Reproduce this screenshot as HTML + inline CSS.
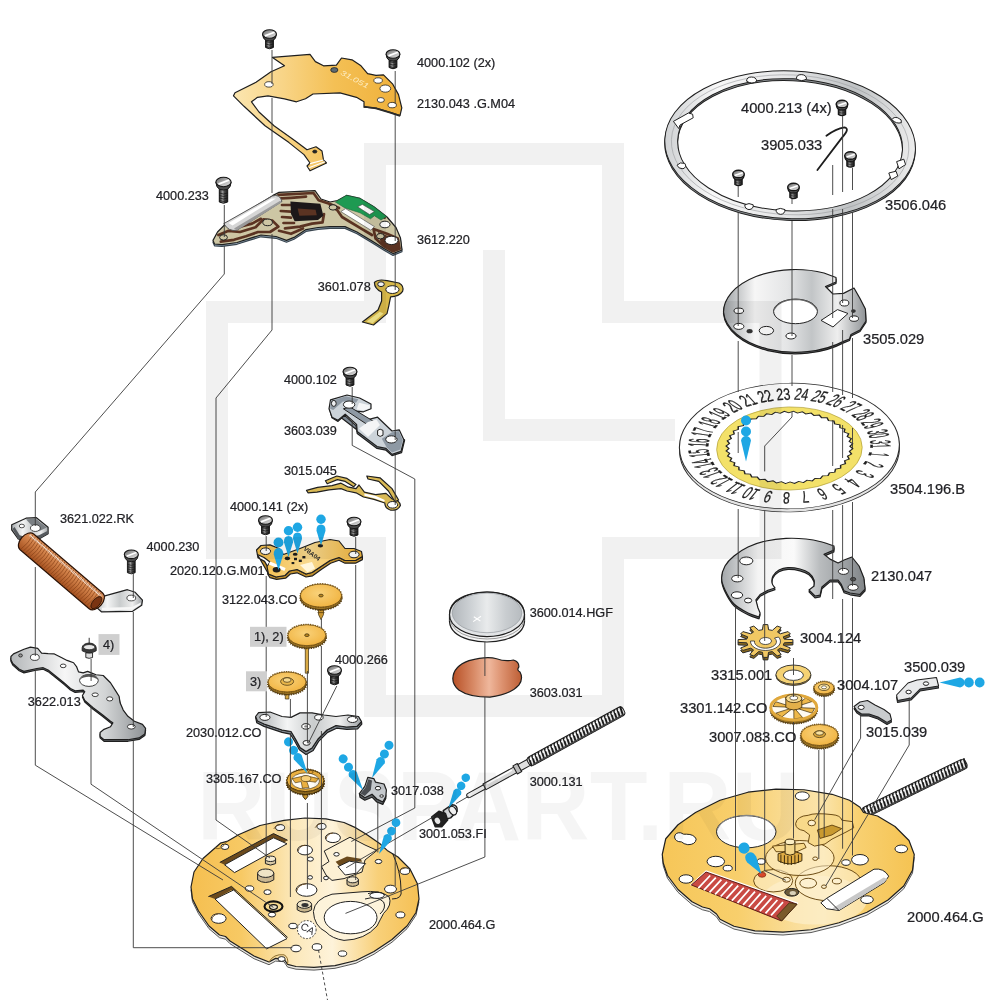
<!DOCTYPE html>
<html lang="en">
<head>
<meta charset="utf-8">
<title>Exploded view - movement parts</title>
<style>
html,body{margin:0;padding:0;background:#fff;}
body{width:1000px;height:1000px;overflow:hidden;font-family:"Liberation Sans",sans-serif;}
svg{display:block;will-change:transform;}
svg text{font-family:"Liberation Sans",sans-serif;}
.lbl{font-size:12.7px;fill:#222226;stroke:#222226;stroke-width:0.22px;}
.ln{fill:none;stroke:#3a3a3a;stroke-width:0.9;}
.o{stroke:#2b2b2b;stroke-width:1;vector-effect:non-scaling-stroke;stroke-linejoin:round;}
.ot{stroke:#2b2b2b;stroke-width:0.7;vector-effect:non-scaling-stroke;stroke-linejoin:round;}
.n{vector-effect:non-scaling-stroke;}
</style>
</head>
<body>
<svg width="1000" height="1000" viewBox="0 0 1000 1000">
<!-- 00_defs -->
<defs>
  <linearGradient id="gGold" x1="0" y1="0" x2="1" y2="0">
    <stop offset="0" stop-color="#f2b63c"/><stop offset="0.45" stop-color="#fbe3ad"/><stop offset="0.6" stop-color="#fbe6b4"/><stop offset="1" stop-color="#f2b840"/>
  </linearGradient>
  <linearGradient id="gGold2" x1="0" y1="0" x2="1" y2="0">
    <stop offset="0" stop-color="#f3bc48"/><stop offset="0.5" stop-color="#f8d98f"/><stop offset="1" stop-color="#f1b43a"/>
  </linearGradient>
  <linearGradient id="gSteel" x1="0" y1="0" x2="1" y2="0">
    <stop offset="0" stop-color="#a9adb0"/><stop offset="0.3" stop-color="#f4f5f5"/><stop offset="0.55" stop-color="#c9cccd"/><stop offset="0.8" stop-color="#eeeeee"/><stop offset="1" stop-color="#9fa3a6"/>
  </linearGradient>
  <linearGradient id="gSteel2" x1="0" y1="0" x2="1" y2="0">
    <stop offset="0" stop-color="#b4b7b9"/><stop offset="0.4" stop-color="#f6f6f6"/><stop offset="0.7" stop-color="#d2d4d5"/><stop offset="1" stop-color="#8e9295"/>
  </linearGradient>
  <linearGradient id="gCopper" x1="0" y1="0" x2="1" y2="0">
    <stop offset="0" stop-color="#b9542a"/><stop offset="0.45" stop-color="#eaa98a"/><stop offset="0.6" stop-color="#e39a78"/><stop offset="1" stop-color="#c0603a"/>
  </linearGradient>
</defs>
<rect x="0" y="0" width="1000" height="1000" fill="#ffffff"/>
<defs>
  <linearGradient id="gShaft" x1="0" y1="0" x2="1" y2="0">
    <stop offset="0" stop-color="#1c1c1c"/><stop offset="0.4" stop-color="#9a9a9a"/><stop offset="0.6" stop-color="#4a4a4a"/><stop offset="1" stop-color="#1a1a1a"/>
  </linearGradient>
  <linearGradient id="gHead" x1="0" y1="0" x2="1" y2="1">
    <stop offset="0" stop-color="#666"/><stop offset="0.5" stop-color="#b0b0b0"/><stop offset="1" stop-color="#e6e6e6"/>
  </linearGradient>
  <g id="screw">
    <path d="M-3.900 3 V13.500 Q0 16 3.900 13.500 V3 Z" fill="url(#gShaft)" stroke="#161616" stroke-width="1"/>
    <path d="M-3.900 7.500 Q0 9.500 3.900 7.500 M-3.900 10 Q0 12 3.900 10 M-3.900 12.500 Q0 14.500 3.900 12.500" fill="none" stroke="#161616" stroke-width="0.7"/>
    <path d="M-6.900 0 Q-6.900 5 -3.300 6.600 Q0 7.600 3.300 6.600 Q6.900 5 6.900 0 Z" fill="#4a4a4a" stroke="#161616" stroke-width="1"/>
    <ellipse cx="0" cy="0" rx="6.900" ry="4.300" fill="url(#gHead)" stroke="#161616" stroke-width="1.100"/>
    <path d="M-4.600 1.900 L5 -1.700" stroke="#fff" stroke-width="1.700" fill="none"/>
  </g>
  <g id="screwL">
    <path d="M-4.200 3 V20 Q0 22.500 4.200 20 V3 Z" fill="url(#gShaft)" stroke="#161616" stroke-width="1"/>
    <path d="M-4.200 11 Q0 13 4.200 11 M-4.200 13.500 Q0 15.500 4.200 13.500 M-4.200 16 Q0 18 4.200 16 M-4.200 18.500 Q0 20.500 4.200 18.500" fill="none" stroke="#161616" stroke-width="0.7"/>
    <path d="M-7.600 0 Q-7.600 5.500 -3.600 7.500 Q0 8.500 3.600 7.500 Q7.600 5.500 7.600 0 Z" fill="#4a4a4a" stroke="#161616" stroke-width="1"/>
    <ellipse cx="0" cy="0" rx="7.600" ry="4.700" fill="url(#gHead)" stroke="#161616" stroke-width="1.100"/>
    <path d="M-5 2.100 L5.500 -1.900" stroke="#fff" stroke-width="1.800" fill="none"/>
  </g>
  <g id="screwS">
    <path d="M-3.300 2 V9.500 Q0 11.500 3.300 9.500 V2 Z" fill="url(#gShaft)" stroke="#161616" stroke-width="1.1"/>
    <path d="M-3.300 5.500 Q0 7 3.300 5.500 M-3.300 7.500 Q0 9 3.300 7.500" fill="none" stroke="#222" stroke-width="0.6"/>
    <path d="M-5.200 0 Q-5.200 4 -2.500 5 Q0 5.800 2.500 5 Q5.200 4 5.200 0 Z" fill="#5f5f5f" stroke="#161616" stroke-width="1.1"/>
    <ellipse cx="0" cy="0" rx="5.200" ry="3.400" fill="url(#gHead)" stroke="#161616" stroke-width="1.2"/>
    <path d="M-3.500 1.300 L3.800 -1.200" stroke="#fff" stroke-width="1.400" fill="none"/>
  </g>
</defs>
<defs>
  <g id="pin3" fill="#1ea7e4">
    <path d="M0 0 L-5 -21 Q-4 -25.500 0 -25.500 Q4 -25.500 5 -21 Z"/>
    <circle cx="0" cy="-30" r="5"/>
    <circle cx="0" cy="-41" r="5"/>
  </g>
  <g id="pin2" fill="#1ea7e4">
    <path d="M0 0 L-4.300 -14 Q-4.500 -20 0 -20 Q4.500 -20 4.300 -14 Z"/>
    <circle cx="0" cy="-25" r="4.500"/>
  </g>
  <radialGradient id="gGear" cx="0.45" cy="0.4" r="0.7">
    <stop offset="0" stop-color="#f9d27a"/><stop offset="1" stop-color="#f0b03a"/>
  </radialGradient>
</defs>
<!-- 10_plate2130043 -->
<g id="p2130043" transform="translate(220,10) scale(0.3)" stroke="#1f1f1f" stroke-width="4" stroke-linejoin="round">
  <linearGradient id="gGoldLR" gradientUnits="userSpaceOnUse" x1="45" y1="0" x2="606" y2="0"><stop offset="0" stop-color="#fbe6b0"/><stop offset="0.3" stop-color="#f8d486"/><stop offset="0.6" stop-color="#f4c055"/><stop offset="1" stop-color="#efb03a"/></linearGradient>
  <path fill="url(#gGoldLR)" d="M175 158 L300 148 L318 172 L345 186 L388 184 L405 160 L440 166 L470 186 L492 212 L520 218 L545 216 L575 246 L595 282 L606 326 L600 352 L570 342 L520 327 L480 324 L480 306 L455 291 L400 276 L310 280 L285 296 L255 306 L215 296 L160 286 L125 291 L105 306 L130 340 L180 386 L250 436 L290 466 L320 456 L340 470 L345 500 L355 510 L300 536 L290 520 L300 510 L280 482 L230 442 L150 386 L80 321 L45 286 L50 276 L120 241 L170 206 L215 186 Z"/>
  <path fill="none" stroke="#fff" stroke-width="4" d="M300 512 L345 500 M296 526 L350 506"/>
  <path fill="none" stroke="#2b2b2b" stroke-width="6" d="M480 322 L520 328 L570 343 L600 353"/>
  <g fill="#ffffff" stroke-width="2.6">
    <ellipse cx="163" cy="248" rx="14" ry="9"/>
    <ellipse cx="381" cy="200" rx="12" ry="8" fill="#5d6a72"/>
    <ellipse cx="527" cy="235" rx="14" ry="9"/>
    <ellipse cx="551" cy="262" rx="18" ry="12"/>
    <ellipse cx="536" cy="300" rx="12" ry="8"/>
    <ellipse cx="574" cy="317" rx="14" ry="9"/>
    <ellipse cx="316" cy="472" rx="7" ry="5" fill="#222"/>
  </g>
  <text x="0" y="0" transform="translate(400,214) rotate(28) scale(1.4,1)" font-size="24" font-style="italic" fill="#fdecc0" stroke="none">31.051</text>
</g>
<use href="#screw" x="269.500" y="34"/>
<use href="#screw" x="393" y="54"/>
<!-- 11_circuit -->
<g id="p3612220" transform="translate(150,160) scale(0.3)" stroke="#1f1f1f" stroke-width="4" stroke-linejoin="round">
  <path fill="#8fa4b4" stroke="#3a4650" transform="translate(0,6)" d="M210 268 L225 240 L250 215 L300 185 L350 155 L410 118 L430 108 L550 102 L570 130 L600 140 L625 135 L655 118 L700 128 L745 155 L790 190 L820 225 L835 260 L840 300 L810 312 L780 295 L740 270 L690 240 L650 222 L600 222 L560 225 L520 232 L480 258 L455 268 L420 255 L370 250 L330 262 L290 275 L240 282 L215 280 Z"/>
  <path fill="#cdc6a4" d="M210 268 L225 240 L250 215 L300 185 L350 155 L410 118 L430 108 L550 102 L570 130 L600 140 L625 135 L655 118 L700 128 L745 155 L790 190 L820 225 L835 260 L840 300 L810 312 L780 295 L740 270 L690 240 L650 222 L600 222 L560 225 L520 232 L480 258 L455 268 L420 255 L370 250 L330 262 L290 275 L240 282 L215 280 Z"/>
  <g fill="none" stroke="#5b3322" stroke-width="9" stroke-linejoin="round" stroke-linecap="round">
    <path d="M428 116 L545 110 L562 134 L598 146 L630 160"/>
    <path d="M436 128 L470 126 L520 122 M440 150 L470 150 M436 170 L470 172 M440 190 L470 192 M445 210 L480 210 M450 228 L500 222 L540 212 L575 208 L580 180"/>
    <path d="M430 236 L470 246 L510 228"/>
    <path d="M228 250 L262 236 L300 240 L352 224 L378 198 L408 202 L428 222 L400 240 L360 240 L320 254 L280 266 L236 272"/>
    <path d="M300 222 L340 212 L370 196"/>
    <path d="M745 230 L790 246 L826 262 L832 296 L810 304 L778 286 L752 262 Z"/>
    <path d="M755 172 L782 192 M600 150 L625 168 L640 190 L700 226 L740 250"/>
  </g>
  <path fill="#5b3322" stroke="none" d="M760 240 L826 266 L830 296 L808 302 L770 280 Z"/>
  <path fill="#1c1718" stroke="none" d="M468 138 L568 146 L578 186 L560 200 L482 204 L470 180 Z"/>
  <path fill="#5b3322" stroke="none" d="M492 162 L552 166 L556 184 L498 186 Z"/>
  <path fill="#1e9a52" stroke="#1b6b3c" stroke-width="2" d="M618 140 L655 118 L700 128 L745 155 L788 188 L770 200 L748 186 L735 196 L700 176 L650 160 Z"/>
  <path fill="#ffffff" stroke="#444" stroke-width="2" d="M692 156 L708 148 L748 172 L732 182 Z"/>
  <path fill="#ffffff" stroke="#444" stroke-width="2" d="M636 172 L652 162 L748 222 L736 234 Z"/>
  <path fill="#d6d6d6" stroke="#555" stroke-width="3.300" d="M246 212 L408 120 Q432 112 440 138 L290 234 Q262 240 246 212 Z"/>
  <path fill="#ffffff" stroke="none" d="M262 210 L405 128 L420 128 L275 218 Z"/>
  <path fill="#9a9a9a" stroke="none" d="M280 228 L434 136 L438 142 L290 234 Z"/>
  <g fill="#cdc6a4" stroke-width="3.300">
    <ellipse cx="245" cy="258" rx="13" ry="9"/>
    <ellipse cx="392" cy="208" rx="16" ry="11"/>
    <ellipse cx="610" cy="158" rx="13" ry="9"/>
    <ellipse cx="783" cy="215" rx="17" ry="11" fill="#fff"/>
    <ellipse cx="768" cy="254" rx="13" ry="9"/>
    <ellipse cx="805" cy="268" rx="22" ry="14" fill="#fff"/>
  </g>
</g>
<g id="p3601078" transform="translate(150,160) scale(0.3)" stroke="#1f1f1f" stroke-width="4" stroke-linejoin="round">
  <path fill="#d8b94a" d="M748 408 Q760 396 790 402 L830 410 Q848 420 842 438 Q830 456 802 456 L796 486 L790 512 L745 550 L708 540 L760 500 L772 470 L772 440 Q748 428 748 408 Z"/>
  <path fill="#f7e98c" stroke="none" d="M722 538 L766 506 L778 512 L742 544 Z"/>
  <ellipse cx="770" cy="414" rx="11" ry="8" fill="#fff" stroke-width="3.300"/>
  <ellipse cx="808" cy="432" rx="22" ry="13" fill="#fff" stroke-width="3.300"/>
</g>
<use href="#screwL" x="223.500" y="182"/>
<!-- 12_bracket -->
<g id="p3603039" transform="translate(200,350) scale(0.3)" stroke="#1f1f1f" stroke-width="4" stroke-linejoin="round">
  <path fill="#7c8792" d="M432 196 L440 226 L460 238 L482 218 L520 252 L524 278 L590 328 L620 334 L640 352 L672 342 L682 300 L676 296 L668 334 L640 342 L622 324 L592 318 L528 270 Z"/>
  <path fill="#ccd3d9" d="M435 166 L490 150 L532 160 L570 180 L570 196 L545 206 L520 204 L560 232 L592 224 L640 270 L664 266 L680 300 L670 338 L640 348 L620 328 L590 322 L524 272 L522 248 L484 214 L460 234 L440 224 L430 196 Z"/>
  <path fill="#8e99a4" stroke-width="3.300" d="M478 196 L500 190 L592 246 L578 262 Z"/>
  <path fill="#f4f5f6" stroke="none" d="M530 176 L566 184 L566 194 L545 202 L522 198 Z"/>
  <path fill="#f4f5f6" stroke="none" d="M530 262 L560 240 L588 232 L600 250 L560 290 Z"/>
  <path fill="#8e99a4" stroke="none" d="M436 170 L486 154 L528 164 L520 176 L476 172 L444 200 L434 196 Z"/>
  <path fill="#8e99a4" stroke="none" d="M606 296 L640 274 L662 270 L676 300 L668 332 L640 342 L622 324 Z"/>
  <ellipse cx="497" cy="182" rx="19" ry="12" fill="#fff" stroke-width="3.300"/>
  <ellipse cx="638" cy="298" rx="19" ry="12" fill="#fff" stroke-width="3.300"/>
  <ellipse cx="446" cy="178" rx="8" ry="10" fill="#eef0f2" stroke-width="3.300"/>
  <path d="M592 268 Q600 260 610 268 V284 Q600 292 592 284 Z" fill="#f6f6f6" stroke-width="3.300"/>
</g>
<g id="p3015045" transform="translate(200,350) scale(0.3)" stroke="#1f1f1f" stroke-width="4" stroke-linejoin="round">
  <path fill="#d9b955" d="M355 468 L392 458 L440 452 L470 444 L492 456 L520 462 L530 450 L548 474 L585 482 L620 478 L640 496 Q666 500 668 518 Q660 536 636 534 Q616 528 616 510 L580 498 L545 490 L520 476 L490 470 L470 462 L430 466 L390 474 L360 476 Z"/>
  <path fill="#d9b955" d="M418 436 L456 420 L490 428 L520 448 L512 456 L484 438 L458 432 L424 446 Z"/>
  <path fill="#d9b955" d="M556 420 L600 426 L640 462 L662 500 L650 506 L628 470 L596 438 L560 430 Z"/>
  <path fill="#fff" stroke="none" d="M548 478 L585 486 L616 500 L614 506 L580 494 L548 486 Z"/>
  <ellipse cx="642" cy="516" rx="17" ry="11" fill="#fff" stroke-width="3.300"/>
</g>
<use href="#screw" x="350" y="371.500"/>
<!-- 13_bridge2020 -->
<g id="p2020120" transform="translate(180,490) scale(0.3)" stroke="#1f1f1f" stroke-width="4" stroke-linejoin="round">
  <path fill="#c08f2c" d="M258 215 L260 226 L282 238 L296 262 L292 280 L300 292 L322 298 L352 294 L368 280 L390 276 L420 290 L442 286 L472 264 L502 244 L530 234 L550 244 L585 244 L608 232 L608 222 L585 235 L550 235 L530 225 L500 235 L470 255 L440 275 L420 280 L390 265 L365 270 L350 285 L320 290 L295 280 Z"/>
  <path fill="url(#gGold2)" d="M255 200 L270 185 L300 183 L330 195 L345 215 L400 195 L450 175 L500 165 L530 170 L550 195 L580 195 L605 205 L608 222 L585 235 L550 235 L530 225 L500 235 L470 255 L440 275 L420 280 L390 265 L365 270 L350 285 L320 290 L295 280 L290 255 L300 240 L280 225 L258 215 Z"/>
  <path fill="#ffffff" stroke="none" d="M300 238 L352 260 L348 270 L296 248 Z"/>
  <path fill="#fff6dc" stroke="none" d="M400 250 L440 240 L450 262 L425 274 Z"/>
  <g fill="#fff" stroke-width="3.300">
    <ellipse cx="285" cy="204" rx="17" ry="11"/>
    <ellipse cx="580" cy="215" rx="17" ry="11"/>
  </g>
  <g fill="#1c1c1c" stroke="none">
    <ellipse cx="322" cy="266" rx="13" ry="9"/>
    <ellipse cx="358" cy="228" rx="9" ry="6"/>
    <ellipse cx="384" cy="214" rx="8" ry="5"/>
    <ellipse cx="468" cy="186" rx="9" ry="6"/>
    <rect x="380" y="226" width="10" height="8"/><rect x="396" y="232" width="10" height="8"/><rect x="408" y="220" width="10" height="8"/><rect x="372" y="240" width="9" height="7"/>
  </g>
  <text transform="translate(410,198) rotate(38)" font-size="21" font-weight="bold" fill="#2b2b2b" stroke="none">V8A04</text>
</g>
<use href="#screw" x="265.500" y="520"/>
<use href="#screw" x="354" y="521.500"/>
<g id="pins-bridge">
  <use href="#pin2" transform="translate(321,545.500) scale(1.05)"/>
  <use href="#pin2" transform="translate(278.500,570) scale(1.1)"/>
  <use href="#pin2" transform="translate(288.500,557) scale(1.05)"/>
  <use href="#pin2" transform="translate(297.500,553.500) scale(1.05)"/>
</g>
<!-- 14_gears_left -->
<g id="gears-left">
<path d="M318.5 605.6 L318.5 614.6 L321.0 619.6 L323.5 614.6 L323.5 605.6 Z" fill="#c9952d" stroke="#3a2a0a" stroke-width="0.7"/>
<path d="M317.0 607.6 h8 M317.0 610.1 h8 M317.5 612.6 h7" stroke="#5a3f10" stroke-width="0.8" fill="none"/>
<ellipse cx="321.0" cy="598.1" rx="20.5" ry="11.5" fill="#9c7424" stroke="#3a2a0a" stroke-width="0.8"/>
<ellipse cx="321.0" cy="598.1" rx="20.8" ry="11.8" fill="none" stroke="#5a3f10" stroke-width="1.6" stroke-dasharray="1.28 1.28"/>
<ellipse cx="321.0" cy="595.6" rx="20.5" ry="11.5" fill="url(#gGear)" stroke="#6b4a12" stroke-width="0.8"/>
<ellipse cx="321.0" cy="595.6" rx="20.9" ry="11.9" fill="none" stroke="#7a5716" stroke-width="1.2" stroke-dasharray="1.28 1.28"/>
<ellipse cx="321.0" cy="595.6" rx="2.2" ry="1.4" fill="#b8861f" stroke="#3a2a0a" stroke-width="0.7"/>
<path d="M305.29999999999995 645.2 L305.29999999999995 673.2 L308.5 673.2 L308.5 645.2 Z" fill="#d9aa45" stroke="#3a2a0a" stroke-width="0.7"/>
<ellipse cx="306.9" cy="637.7" rx="19" ry="10.5" fill="#9c7424" stroke="#3a2a0a" stroke-width="0.8"/>
<ellipse cx="306.9" cy="637.7" rx="19.3" ry="10.8" fill="none" stroke="#5a3f10" stroke-width="1.6" stroke-dasharray="1.18 1.18"/>
<ellipse cx="306.9" cy="635.2" rx="19" ry="10.5" fill="url(#gGear)" stroke="#6b4a12" stroke-width="0.8"/>
<ellipse cx="306.9" cy="635.2" rx="19.4" ry="10.9" fill="none" stroke="#7a5716" stroke-width="1.2" stroke-dasharray="1.18 1.18"/>
<ellipse cx="306.9" cy="635.2" rx="2.2" ry="1.4" fill="#b8861f" stroke="#3a2a0a" stroke-width="0.7"/>
<path d="M285.3 692.0 L285.3 699.0 L288.90000000000003 699.0 L288.90000000000003 692.0 Z" fill="#d9aa45" stroke="#3a2a0a" stroke-width="0.7"/>
<ellipse cx="287.1" cy="684.5" rx="19" ry="10" fill="#9c7424" stroke="#3a2a0a" stroke-width="0.8"/>
<ellipse cx="287.1" cy="684.5" rx="19.3" ry="10.3" fill="none" stroke="#5a3f10" stroke-width="1.6" stroke-dasharray="1.17 1.17"/>
<ellipse cx="287.1" cy="682.0" rx="19" ry="10" fill="url(#gGear)" stroke="#6b4a12" stroke-width="0.8"/>
<ellipse cx="287.1" cy="682.0" rx="19.4" ry="10.4" fill="none" stroke="#7a5716" stroke-width="1.2" stroke-dasharray="1.17 1.17"/>
<ellipse cx="287.1" cy="681.5" rx="6.5" ry="3.8" fill="#e8b64a" stroke="#3a2a0a" stroke-width="0.7"/>
<ellipse cx="287.1" cy="680.0" rx="4" ry="2.3" fill="#f6d88c" stroke="#3a2a0a" stroke-width="0.7"/>
</g>
<use href="#screw" x="334.5" y="670.0"/>
<!-- 15_bridge2030 -->
<g id="p2030012" transform="translate(180,640) scale(0.3)" stroke="#1f1f1f" stroke-width="4" stroke-linejoin="round">
  <path fill="#7f878e" d="M252 258 L256 276 L280 288 L340 308 L368 314 L384 340 L398 366 L420 382 L444 368 L462 338 L492 308 L522 294 L556 298 L592 296 L606 280 L605 272 L590 288 L555 290 L520 285 L490 300 L460 330 L440 360 L420 372 L400 358 L385 330 L370 305 L340 300 L280 280 Z"/>
  <path fill="url(#gSteel)" d="M252 255 L262 242 L300 240 L340 255 L370 258 L400 243 L440 243 L480 250 L520 255 L560 250 L595 255 L605 272 L590 288 L555 290 L520 285 L490 300 L460 330 L440 360 L420 372 L400 358 L385 330 L370 305 L340 300 L310 290 L280 280 L258 270 Z"/>
  <g fill="#fff" stroke-width="3.300">
    <ellipse cx="283" cy="258" rx="17" ry="10"/>
    <ellipse cx="575" cy="265" rx="17" ry="10"/>
    <ellipse cx="463" cy="258" rx="14" ry="9"/>
    <ellipse cx="420" cy="288" rx="14" ry="9"/>
    <ellipse cx="422" cy="343" rx="12" ry="8"/>
  </g>
  <ellipse cx="420" cy="288" rx="6" ry="4" fill="#888" stroke="none"/>
</g>
<g id="p3305167" transform="translate(180,640) scale(0.3)" stroke="#3a2a0a" stroke-width="3.300" stroke-linejoin="round">
  <path d="M410 500 L410 522 L418 532 L426 522 L426 500 Z" fill="#c9952d"/>
  <ellipse cx="418" cy="478" rx="62" ry="37" fill="#8f6a1f"/>
  <ellipse cx="418" cy="478" rx="63" ry="38" fill="none" stroke="#4a3308" stroke-width="5" stroke-dasharray="4 4"/>
  <ellipse cx="418" cy="468" rx="62" ry="37" fill="#eab040"/>
  <ellipse cx="418" cy="468" rx="63" ry="38" fill="none" stroke="#6b4a12" stroke-width="4" stroke-dasharray="4 4"/>
  <ellipse cx="418" cy="470" rx="47" ry="27" fill="#fffdf5" stroke-width="2"/>
  <path d="M374 462 L418 452 L462 462 L452 474 L422 470 L430 492 L408 494 L404 472 L384 476 Z" fill="#eab040" stroke-width="2"/>
  <ellipse cx="420" cy="462" rx="16" ry="10" fill="#f6cf77" stroke-width="2"/>
  <ellipse cx="436" cy="440" rx="8" ry="5" fill="#e9a93a" stroke-width="2"/>
</g>
<g id="p3017038" transform="translate(180,640) scale(0.3)" stroke="#1f1f1f" stroke-width="4" stroke-linejoin="round">
  <path fill="#5d6166" d="M598 512 L600 524 L616 534 L640 524 L656 540 L676 548 L686 528 L686 516 L676 538 L656 530 L640 514 L616 524 Z"/>
  <path fill="#c4c8cc" d="M598 512 L616 488 L626 458 L646 462 L652 474 L680 480 L688 500 L686 522 L676 540 L656 530 L640 514 L616 526 Z"/>
  <path fill="#4a4d52" stroke="none" d="M602 512 L618 492 L628 464 L640 468 L636 500 L616 520 Z"/>
  <ellipse cx="660" cy="494" rx="9" ry="6" fill="#fff" stroke-width="3.300"/>
  <ellipse cx="672" cy="520" rx="6" ry="4" fill="#fff" stroke-width="3.300"/>
</g>
<g id="p3001053" transform="translate(180,640) scale(0.3) translate(880,588) scale(1.22) translate(-880,-588)" stroke="#1f1f1f" stroke-width="4" stroke-linejoin="round">
  <path fill="#d7d9db" d="M878 572 L902 556 Q918 556 916 574 L898 592 L884 596 Z"/>
  <ellipse cx="904" cy="572" rx="9" ry="13" transform="rotate(-35 904 572)" fill="#f1f1f1" stroke-width="3.300"/>
  <path fill="#222" d="M846 590 L866 574 L884 580 L890 598 L874 616 L856 616 Z"/>
  <ellipse cx="862" cy="600" rx="7" ry="9" transform="rotate(-30 862 600)" fill="#e6e6e6" stroke="none"/>
</g>
<g id="pins-mid">
  <use href="#pin3" transform="translate(307.500,773.500) rotate(-31) scale(0.9)"/>
  <use href="#pin3" transform="translate(363,790) rotate(-32.500) scale(0.9)"/>
  <use href="#pin3" transform="translate(372,778) rotate(27.400) scale(0.9)"/>
  <use href="#pin3" transform="translate(448.500,808) rotate(29.700) scale(0.85)"/>
</g>
<!-- 16_leftparts -->
<g id="p3621022" transform="translate(0,500) scale(0.26)" stroke="#1f1f1f" stroke-width="4.600" stroke-linejoin="round">
  <path fill="url(#gSteel)" d="M45 95 L100 70 L140 68 L185 105 L185 130 L150 150 L100 158 L70 150 L45 115 Z"/>
  <path fill="#55595d" stroke="none" d="M48 112 L70 150 L104 158 L150 150 L184 130 L184 118 L150 136 L104 144 L76 136 L56 104 Z"/>
  <path fill="#7b8084" stroke="none" d="M100 74 L138 72 L180 106 L150 120 L120 96 Z"/>
  <ellipse cx="84" cy="100" rx="10" ry="7" fill="#fff" stroke-width="3"/>
  <ellipse cx="136" cy="108" rx="19" ry="13" fill="#fff" stroke-width="3"/>
  <path fill="url(#gSteel)" d="M355 390 L400 370 L490 345 L520 355 L548 385 L545 405 L510 428 L390 430 L370 412 Z"/>
  <path fill="#f7f7f7" stroke="none" d="M392 424 L508 422 L540 404 L542 394 L508 412 L392 414 Z"/>
  <ellipse cx="505" cy="377" rx="17" ry="11" fill="#fff" stroke-width="3"/>
  <g transform="translate(103.4,161.2) rotate(40.5)">
    <linearGradient id="gCoil" gradientUnits="userSpaceOnUse" x1="0" y1="-40" x2="0" y2="40">
      <stop offset="0" stop-color="#dc9560"/><stop offset="0.35" stop-color="#d2824a"/><stop offset="1" stop-color="#a4501f"/>
    </linearGradient>
    <rect x="-26" y="-40" width="401" height="80" rx="26" ry="40" fill="url(#gCoil)" stroke="#2a1206"/>
    <path fill="none" stroke="#8a4318" stroke-width="2.600" d="M0 -38 Q9 0 0 38 M12 -38 Q20 0 12 38 M23 -38 Q32 0 23 38 M34 -38 Q44 0 34 38 M46 -38 Q55 0 46 38 M58 -38 Q66 0 58 38 M69 -38 Q78 0 69 38 M80 -38 Q90 0 80 38 M92 -38 Q101 0 92 38 M104 -38 Q112 0 104 38 M115 -38 Q124 0 115 38 M126 -38 Q136 0 126 38 M138 -38 Q147 0 138 38 M150 -38 Q158 0 150 38 M161 -38 Q170 0 161 38 M172 -38 Q182 0 172 38 M184 -38 Q193 0 184 38 M196 -38 Q204 0 196 38 M207 -38 Q216 0 207 38 M218 -38 Q228 0 218 38 M230 -38 Q239 0 230 38 M242 -38 Q250 0 242 38 M253 -38 Q262 0 253 38 M264 -38 Q274 0 264 38 M276 -38 Q285 0 276 38 M288 -38 Q296 0 288 38 M299 -38 Q308 0 299 38 M310 -38 Q320 0 310 38 M322 -38 Q331 0 322 38 M334 -38 Q342 0 334 38 M345 -38 Q354 0 345 38"/>
    <path fill="none" stroke="#f6f6f6" stroke-width="7" stroke-dasharray="3 3" d="M-8 -27 H353"/>
    <ellipse cx="355" cy="4" rx="14" ry="28" fill="#7a3412" stroke="#2a1206" stroke-width="3"/>
  </g>
</g>
<g id="p3622013" transform="translate(0,500) scale(0.26)" stroke="#1f1f1f" stroke-width="4.600" stroke-linejoin="round">
  <path fill="#6c7175" transform="translate(0,6)" d="M42 602 L52 592 L92 574 L117 566 L145 571 L160 589 L185 591 L209 592 L234 605 L258 617 L283 626 L295 642 L302 661 L320 665 L337 659 L351 665 L369 672 L397 675 L425 703 L443 731 L458 755 L462 780 L474 808 L492 832 L517 851 L548 863 L560 878 L557 900 L535 915 L492 922 L400 922 L385 909 L385 894 L400 882 L425 872 L434 857 L425 851 L394 826 L357 798 L326 771 L317 752 L326 737 L320 731 L289 734 L271 725 L246 703 L215 678 L185 654 L166 645 L142 648 L92 659 L74 651 L49 629 L42 614 Z"/>
  <path fill="url(#gSteel2)" d="M42 602 L52 592 L92 574 L117 566 L145 571 L160 589 L185 591 L209 592 L234 605 L258 617 L283 626 L295 642 L302 661 L320 665 L337 659 L351 665 L369 672 L397 675 L425 703 L443 731 L458 755 L462 780 L474 808 L492 832 L517 851 L548 863 L560 878 L557 900 L535 915 L492 922 L400 922 L385 909 L385 894 L400 882 L425 872 L434 857 L425 851 L394 826 L357 798 L326 771 L317 752 L326 737 L320 731 L289 734 L271 725 L246 703 L215 678 L185 654 L166 645 L142 648 L92 659 L74 651 L49 629 L42 614 Z"/>
  <g fill="#fff" stroke-width="3.300">
    <ellipse cx="134" cy="605" rx="17" ry="12"/>
    <ellipse cx="243" cy="638" rx="11" ry="7"/>
    <ellipse cx="342" cy="694" rx="36" ry="23"/>
    <ellipse cx="366" cy="749" rx="12" ry="7"/>
    <ellipse cx="422" cy="765" rx="12" ry="8"/>
    <ellipse cx="505" cy="872" rx="15" ry="9"/>
  </g>
  <ellipse cx="79" cy="598" rx="7" ry="6" fill="#9a9a9a" stroke-width="3.300"/>
  <path fill="#555" stroke="none" d="M308 691 Q314 671 342 670 Q369 672 377 690 Q363 680 342 680 Q320 680 308 691 Z"/>
</g>
<g id="p4" transform="translate(0,500) scale(0.26)" stroke="#1f1f1f" stroke-width="3.500" stroke-linejoin="round">
  <path d="M343 530 V556" fill="none"/>
  <path fill="#dcdcdc" d="M330 588 H356 V606 Q343 612 330 606 Z"/>
  <path fill="#3a3a3a" d="M316 568 Q318 552 343 550 Q368 552 370 568 V580 Q344 596 316 580 Z"/>
  <ellipse cx="343" cy="566" rx="22" ry="10" fill="#e8e8e8" stroke-width="3"/>
</g>
<use href="#screwL" transform="translate(131.300,554.300) scale(0.92)"/>
<!-- 17_battery_stem -->
<g id="p3600014" transform="translate(400,570) scale(0.3)" stroke="#1f1f1f" stroke-width="4" stroke-linejoin="round">
  <linearGradient id="gBat" gradientUnits="userSpaceOnUse" x1="165" y1="0" x2="415" y2="0">
    <stop offset="0" stop-color="#aeb3b8"/><stop offset="0.3" stop-color="#cfd3d6"/><stop offset="0.5" stop-color="#e9ebec"/><stop offset="0.75" stop-color="#c9cdd0"/><stop offset="1" stop-color="#b4b9bd"/>
  </linearGradient>
  <path fill="#f4f4f4" d="M165 150 Q165 100 230 82 Q290 66 350 82 Q415 100 415 150 V172 Q412 214 350 232 Q290 248 230 232 Q168 214 165 172 Z"/>
  <path fill="none" stroke="#9a9a9a" stroke-width="3.300" d="M166 166 Q176 206 232 222 Q290 238 350 222 Q408 204 414 166"/>
  <ellipse cx="290" cy="148" rx="125" ry="74" fill="#e2e4e6"/>
  <ellipse cx="290" cy="143" rx="116" ry="66" fill="url(#gBat)" stroke="#8a8f93" stroke-width="2"/>
  <path fill="none" stroke="#fff" stroke-width="3.500" d="M246 156 L268 170 M244 172 L270 154"/>
</g>
<g id="p3603031" transform="translate(400,570) scale(0.3)" stroke="#1f1f1f" stroke-width="4" stroke-linejoin="round">
  <linearGradient id="gCop" gradientUnits="userSpaceOnUse" x1="175" y1="0" x2="410" y2="0">
    <stop offset="0" stop-color="#b85026"/><stop offset="0.3" stop-color="#d88a66"/><stop offset="0.52" stop-color="#efb79c"/><stop offset="0.7" stop-color="#dd9270"/><stop offset="1" stop-color="#bb5a30"/>
  </linearGradient>
  <path fill="url(#gCop)" d="M176 362 Q178 320 230 302 Q290 286 322 296 Q350 306 378 300 Q398 306 396 324 Q388 334 400 340 Q412 362 396 384 Q370 414 300 424 Q230 424 196 400 Q176 384 176 362 Z"/>
</g>
<g id="p3000131" stroke="#1f1f1f" stroke-width="1" stroke-linejoin="round">
  <g transform="translate(467,796.500) rotate(-28.900)">
    <rect x="0" y="-2.300" width="22" height="4.600" rx="2.300" fill="#efefef"/>
    <rect x="20" y="-3.200" width="36" height="6.400" fill="#d8d8d8"/>
    <path d="M24 -1.500 H52" stroke="#fff" stroke-width="1.500" fill="none"/>
    <rect x="55" y="-4.600" width="5" height="9.200" fill="#bdbdbd"/>
    <rect x="60" y="-3.400" width="11" height="6.800" fill="#e0e0e0"/>
    <rect x="70" y="-4.800" width="109" height="9.600" rx="3.500" fill="#e8e8e8"/>
    <path d="M73.1 -4.8 L71.3 4.8 M76.7 -4.8 L74.9 4.8 M80.3 -4.8 L78.5 4.8 M83.9 -4.8 L82.1 4.8 M87.5 -4.8 L85.7 4.8 M91.1 -4.8 L89.3 4.8 M94.7 -4.8 L92.9 4.8 M98.3 -4.8 L96.5 4.8 M101.9 -4.8 L100.1 4.8 M105.5 -4.8 L103.7 4.8 M109.1 -4.8 L107.3 4.8 M112.7 -4.8 L110.9 4.8 M116.3 -4.8 L114.5 4.8 M119.9 -4.8 L118.1 4.8 M123.5 -4.8 L121.7 4.8 M127.1 -4.8 L125.3 4.8 M130.7 -4.8 L128.9 4.8 M134.3 -4.8 L132.5 4.8 M137.9 -4.8 L136.1 4.8 M141.5 -4.8 L139.7 4.8 M145.1 -4.8 L143.3 4.8 M148.7 -4.8 L146.9 4.8 M152.3 -4.8 L150.5 4.8 M155.9 -4.8 L154.1 4.8 M159.5 -4.8 L157.7 4.8 M163.1 -4.8 L161.3 4.8 M166.7 -4.8 L164.9 4.8 M170.3 -4.8 L168.5 4.8 M173.9 -4.8 L172.1 4.8 M177.5 -4.8 L175.7 4.8" stroke="#1c1c1c" stroke-width="1.900" fill="none"/>
    <path d="M73 -2.200 H176" stroke="#ffffff" stroke-width="1.900" stroke-dasharray="1.700 1.900" fill="none"/>
    <path d="M73 3.800 H176" stroke="#444" stroke-width="1.400" fill="none"/>
  </g>
</g>
<!-- 20_mainplate_left -->
<g id="mainplateL" transform="translate(170,800) scale(0.3)" stroke="#1f1f1f" stroke-width="4" stroke-linejoin="round">
  <linearGradient id="gPlateL" gradientUnits="userSpaceOnUse" x1="70" y1="0" x2="830" y2="0">
    <stop offset="0" stop-color="#f5bf50"/><stop offset="0.22" stop-color="#f7c964"/><stop offset="0.45" stop-color="#fce8ba"/><stop offset="0.62" stop-color="#fef3da"/><stop offset="0.82" stop-color="#f8d079"/><stop offset="1" stop-color="#f5c054"/>
  </linearGradient>
  <path fill="#e9e6df" stroke="#555" stroke-width="3.300" transform="translate(0,9)" d="M70 290 L75 330 L95 370 L130 420 L165 450 L185 455 L200 470 L240 495 L280 520 L330 540 L352 528 L380 530 L392 548 L420 555 L480 558 L550 552 L620 535 L680 505 L740 465 L790 420 L820 375 L830 330 Z"/>
  <path fill="url(#gPlateL)" d="M70 290 L80 240 L110 195 L150 160 L168 144 L190 138 L230 115 L300 85 L380 68 L450 60 L520 63 L580 75 L620 93 L653 113 L700 146 L724 168 L760 190 L800 230 L825 280 L830 330 L820 375 L790 420 L740 465 L680 505 L620 535 L550 552 L480 558 L420 555 L392 548 L380 530 L352 528 L330 540 L280 520 L240 495 L200 470 L185 455 L165 450 L130 420 L95 370 L75 330 Z"/>
  <!-- slots -->
  <path fill="#6b4a1c" stroke="none" d="M166 208 L345 112 L392 134 L380 142 L345 126 L182 216 Z"/>
  <path fill="#fff" stroke-width="3.300" d="M182 216 L345 126 L390 146 L215 242 Z"/>
  <path fill="none" stroke-width="3.300" d="M166 208 L345 112 L392 134"/>
  <path fill="#6b4a1c" stroke="none" d="M128 322 L205 288 L222 304 L205 300 L150 330 Z"/>
  <path fill="#fff" stroke-width="3.300" d="M150 330 L212 300 L390 462 L322 496 Z"/>
  <path fill="none" stroke-width="3.300" d="M128 322 L205 288 L392 458"/>
  <!-- battery recess -->
  <path fill="#fdf3da" stroke-width="3.300" d="M478 372 Q482 330 540 314 L640 306 Q700 300 730 322 Q742 350 712 378 Q700 400 690 420 Q650 466 580 468 Q540 462 520 440 Q480 420 478 372 Z"/>
  <ellipse cx="602" cy="392" rx="88" ry="54" fill="#fff" stroke-width="3.300"/>
  <path fill="none" stroke-width="3.300" d="M650 330 Q690 318 712 340 Q722 360 700 380 M660 312 Q700 300 716 316 M742 178 Q770 240 770 300 Q776 330 740 330"/>
  <ellipse cx="690" cy="318" rx="24" ry="10" fill="#fff" stroke-width="3.300"/>
  <!-- setting mechanism -->
  <path fill="#fdf1d4" stroke-width="3.300" d="M514 170 L600 124 L650 150 L690 168 L650 200 L640 240 L580 262 L540 268 L520 250 L505 222 L530 205 Z"/>
  <path fill="#6b4a1c" stroke="none" d="M552 206 L590 188 L636 196 L640 206 L596 204 L566 222 Z"/>
  <path fill="#fff" stroke-width="3.300" d="M560 222 L598 204 L652 212 L622 244 L584 250 Z"/>
  <!-- holes -->
  <g fill="#fff" stroke-width="3.300">
    <ellipse cx="367" cy="92" rx="15" ry="10"/>
    <ellipse cx="505" cy="88" rx="15" ry="10"/>
    <ellipse cx="543" cy="126" rx="25" ry="16"/>
    <ellipse cx="450" cy="167" rx="25" ry="16"/>
    <ellipse cx="455" cy="300" rx="35" ry="21"/>
    <ellipse cx="183" cy="156" rx="13" ry="9"/>
    <ellipse cx="162" cy="395" rx="25" ry="16"/>
    <ellipse cx="783" cy="237" rx="16" ry="11"/>
    <ellipse cx="768" cy="383" rx="15" ry="10"/>
    <ellipse cx="735" cy="297" rx="20" ry="13"/>
    <ellipse cx="575" cy="512" rx="14" ry="9"/>
    <ellipse cx="372" cy="530" rx="12" ry="8"/>
    <ellipse cx="420" cy="495" rx="17" ry="11"/>
    <ellipse cx="490" cy="490" rx="16" ry="11"/>
    <ellipse cx="410" cy="420" rx="14" ry="9"/>
    <ellipse cx="265" cy="295" rx="14" ry="9"/>
    <ellipse cx="325" cy="307" rx="12" ry="8"/>
    <ellipse cx="340" cy="382" rx="12" ry="8"/>
    <ellipse cx="468" cy="197" rx="10" ry="7"/>
    <ellipse cx="467" cy="258" rx="8" ry="6"/>
    <ellipse cx="555" cy="181" rx="9" ry="6"/>
    <ellipse cx="695" cy="205" rx="11" ry="7"/>
    <ellipse cx="520" cy="260" rx="8" ry="6"/>
  </g>
  <g fill="none" stroke="#6b4a1c" stroke-width="3">
    <path d="M346 96 Q352 84 367 82 M484 92 Q490 80 505 78 M520 130 Q524 112 543 110 M427 170 Q432 152 450 151 M422 304 Q426 282 455 279 M139 400 Q142 382 162 379 M762 242 Q768 228 783 226"/>
  </g>
  <!-- posts -->
  <path fill="#d9c9a5" stroke-width="3.300" d="M318 196 Q335 186 352 196 V212 Q335 222 318 212 Z"/>
  <ellipse cx="335" cy="196" rx="17" ry="9" fill="#f3ead2" stroke-width="3.300"/>
  <path fill="#c9b690" stroke-width="3.300" d="M292 244 Q318 228 346 244 V266 Q318 284 292 266 Z"/>
  <ellipse cx="319" cy="244" rx="27" ry="14" fill="#efe4c6" stroke-width="3.300"/>
  <path fill="#cdbb96" stroke-width="3.300" d="M590 266 Q608 256 628 266 V282 Q608 294 590 282 Z"/>
  <ellipse cx="609" cy="266" rx="19" ry="10" fill="#f3ead2" stroke-width="3.300"/>
  <path fill="#c7b48b" stroke-width="3.300" d="M424 348 Q448 334 472 348 V366 Q448 382 424 366 Z"/>
  <ellipse cx="448" cy="348" rx="24" ry="13" fill="#efe4c6" stroke-width="3.300"/>
  <ellipse cx="450" cy="350" rx="12" ry="7" fill="#333" stroke="none"/>
  <!-- black ring -->
  <ellipse cx="345" cy="355" rx="30" ry="17" fill="#f6d98f" stroke="#111" stroke-width="7"/>
  <ellipse cx="345" cy="357" rx="13" ry="8" fill="#e8e0c8" stroke="#111" stroke-width="4"/>
  <!-- CA -->
  <ellipse cx="456" cy="432" rx="31" ry="30" fill="#fff" stroke="#333" stroke-width="3.300" stroke-dasharray="6 5"/>
  <text x="434" y="440" font-size="34" fill="#2a2a2e" stroke="none" transform="rotate(28 456 432)">CA</text>
  <path fill="none" stroke="#8a6a2a" stroke-width="3.300" d="M150 160 Q170 170 190 138 M330 540 Q345 512 380 516 Q396 524 392 548"/>
</g>
<!-- 21_mainplate_right -->
<g id="stemR" stroke="#1f1f1f" stroke-width="1" stroke-linejoin="round">
  <g transform="translate(863,813.500) rotate(-26.200)">
    <rect x="0" y="-5.200" width="115" height="10.400" rx="4" fill="#e8e8e8"/>
    <path d="M3.1 -5.2 L1.3 5.2 M6.7 -5.2 L4.9 5.2 M10.3 -5.2 L8.5 5.2 M13.9 -5.2 L12.1 5.2 M17.5 -5.2 L15.7 5.2 M21.1 -5.2 L19.3 5.2 M24.7 -5.2 L22.9 5.2 M28.3 -5.2 L26.5 5.2 M31.9 -5.2 L30.1 5.2 M35.5 -5.2 L33.7 5.2 M39.1 -5.2 L37.3 5.2 M42.7 -5.2 L40.9 5.2 M46.3 -5.2 L44.5 5.2 M49.9 -5.2 L48.1 5.2 M53.5 -5.2 L51.7 5.2 M57.1 -5.2 L55.3 5.2 M60.7 -5.2 L58.9 5.2 M64.3 -5.2 L62.5 5.2 M67.9 -5.2 L66.1 5.2 M71.5 -5.2 L69.7 5.2 M75.1 -5.2 L73.3 5.2 M78.7 -5.2 L76.9 5.2 M82.3 -5.2 L80.5 5.2 M85.9 -5.2 L84.1 5.2 M89.5 -5.2 L87.7 5.2 M93.1 -5.2 L91.3 5.2 M96.7 -5.2 L94.9 5.2 M100.3 -5.2 L98.5 5.2 M103.9 -5.2 L102.1 5.2 M107.5 -5.2 L105.7 5.2 M111.1 -5.2 L109.3 5.2 M114.7 -5.2 L112.9 5.2" stroke="#1c1c1c" stroke-width="1.900" fill="none"/>
    <path d="M3 -2.400 H112" stroke="#ffffff" stroke-width="2" stroke-dasharray="1.700 1.900" fill="none"/>
    <path d="M3 4.200 H112" stroke="#444" stroke-width="1.500" fill="none"/>
  </g>
</g>
<g id="mainplateR" transform="translate(650,760) scale(0.35)" stroke="#1f1f1f" stroke-width="3.400" stroke-linejoin="round">
  <linearGradient id="gPlateR" gradientUnits="userSpaceOnUse" x1="35" y1="0" x2="755" y2="0">
    <stop offset="0" stop-color="#f6c658"/><stop offset="0.3" stop-color="#f8cf6c"/><stop offset="0.55" stop-color="#fadf9e"/><stop offset="0.64" stop-color="#fbe4aa"/><stop offset="0.78" stop-color="#f8d070"/><stop offset="1" stop-color="#f5c352"/>
  </linearGradient>
  <path fill="#ecebe6" stroke="#555" stroke-width="2.800" transform="translate(0,8)" d="M35 270 L38 295 L50 330 L80 370 L120 405 L150 420 L170 425 L190 440 L200 455 L240 475 L300 488 L380 492 L460 485 L540 465 L620 435 L680 400 L725 360 L750 315 L755 270 Z"/>
  <path fill="url(#gPlateR)" d="M35 270 L45 225 L80 185 L130 150 L200 115 L280 92 L360 83 L440 85 L520 98 L570 115 L600 135 L610 150 L650 160 L700 190 L740 230 L755 270 L750 315 L725 360 L680 400 L620 435 L540 465 L460 485 L380 492 L300 488 L240 475 L200 455 L190 440 L170 425 L150 420 L120 405 L80 370 L50 330 L38 295 Z"/>
  <ellipse cx="470" cy="400" rx="150" ry="70" fill="#fdf1d2" fill-opacity="0.6" stroke="none"/>
  <!-- recess circles -->
  <g fill="#fdf0cf" fill-opacity="0.55" stroke="#6b4a12" stroke-width="2.800">
    <ellipse cx="510" cy="352" rx="95" ry="50"/>
    <ellipse cx="352" cy="345" rx="56" ry="32"/>
    <ellipse cx="428" cy="280" rx="98" ry="50"/>
  </g>
  <!-- big hole -->
  <ellipse cx="275" cy="205" rx="85" ry="46" fill="#fff" stroke-width="2.800"/>
  <path fill="none" stroke="#8a8a8a" stroke-width="3" d="M192 198 Q210 160 275 158 Q340 160 358 198"/>
  <!-- keyhole -->
  <path fill="#fff" stroke-width="2.800" d="M70 220 Q72 206 88 208 Q96 214 104 212 Q126 212 132 226 Q130 242 108 242 Q96 240 90 234 Q72 234 70 220 Z"/>
  <g fill="#fff" stroke-width="2.800">
    <ellipse cx="435" cy="103" rx="20" ry="12"/>
    <ellipse cx="188" cy="290" rx="25" ry="15"/>
    <ellipse cx="222" cy="309" rx="13" ry="8"/>
    <ellipse cx="103" cy="340" rx="20" ry="12"/>
    <ellipse cx="600" cy="285" rx="24" ry="15"/>
    <ellipse cx="718" cy="254" rx="18" ry="11"/>
    <ellipse cx="620" cy="399" rx="18" ry="11"/>
    <ellipse cx="560" cy="293" rx="12" ry="8"/>
    <ellipse cx="318" cy="290" rx="12" ry="8"/>
  </g>
  <g fill="#fdf0cf" stroke="#6b4a12" stroke-width="2.800">
    <ellipse cx="452" cy="352" rx="24" ry="14"/>
    <ellipse cx="534" cy="346" rx="13" ry="8"/>
    <ellipse cx="390" cy="342" rx="11" ry="7"/>
    <ellipse cx="497" cy="362" rx="7" ry="5"/>
    <ellipse cx="472" cy="282" rx="7" ry="5"/>
  </g>
  <ellipse cx="405" cy="378" rx="20" ry="11" fill="#6b5a3a" stroke-width="2.800"/>
  <ellipse cx="408" cy="380" rx="9" ry="6" fill="#d8d0b8" stroke="none"/>
  <ellipse cx="320" cy="328" rx="11" ry="7" fill="#d8482a" stroke="#7a2a12" stroke-width="2"/>
  <!-- setting mechanism -->
  <g fill="#f8d98a" stroke="#6b4a12" stroke-width="2.800">
    <path d="M416 182 Q420 160 452 158 Q470 150 520 156 Q545 158 548 172 L578 176 L582 194 L560 206 L520 226 L500 240 L470 246 L452 236 L456 214 L440 202 Q416 198 416 182 Z"/>
    <path d="M478 200 L520 186 L548 196 L520 214 L486 224 Z" fill="#c99a30"/>
    <ellipse cx="462" cy="180" rx="11" ry="8" fill="#fdf0cf"/>
    <path d="M350 246 L440 238 L446 250 L420 262 L360 262 Z"/>
  </g>
  <!-- centre pinion -->
  <g stroke="#3a2a0a" stroke-width="2.800">
    <path fill="#e0ad45" d="M366 268 Q400 254 434 268 V288 Q400 306 366 288 Z"/>
    <path fill="none" d="M374 270 V294 M384 272 V298 M394 274 V300 M404 274 V300 M414 272 V298 M424 270 V294"/>
    <path fill="#f3d68a" d="M386 234 Q400 226 414 234 V268 Q400 276 386 268 Z"/>
    <ellipse cx="400" cy="234" rx="14" ry="8" fill="#fbeec4"/>
  </g>
  <!-- coil -->
  <path fill="#fff" stroke="none" d="M114 357 L160 315 L424 408 L420 413 L160 321 L120 359 Z"/>
  <path fill="#c94a44" stroke="#5a1a14" stroke-width="2.800" d="M118 357 L160 320 L420 412 L376 460 Z"/>
  <path fill="none" stroke="#fff" stroke-width="5" d="M138 366 L172 330 M154 372 L188 336 M170 378 L204 342 M186 384 L220 348 M202 390 L236 353 M218 396 L252 359 M234 402 L268 365 M250 408 L284 370 M266 414 L300 376 M282 420 L316 382 M298 426 L332 388 M314 432 L348 394 M330 438 L364 400 M346 444 L380 406"/>
  <path fill="#7a5a2a" stroke="#3a2a0a" stroke-width="2" d="M376 460 L362 446 L398 408 L420 412 Z"/>
  <!-- crystal -->
  <path fill="#fff" stroke-width="2.800" d="M488 408 L505 395 L640 312 Q668 308 682 332 L670 350 L540 430 L505 425 Z"/>
  <path fill="#c8c8c8" stroke="none" d="M520 424 L668 336 L678 340 L668 350 L540 429 Z"/>
  <path fill="none" stroke-width="2.800" d="M505 395 L540 430"/>
</g>
<use href="#pin2" transform="translate(761.500,874) rotate(-34) scale(1.25)"/>
<!-- 30_ring3506 -->
<g id="p3506046" transform="translate(650,50) scale(0.3)" stroke="#1f1f1f" stroke-width="4" stroke-linejoin="round">
  <linearGradient id="gRing" gradientUnits="userSpaceOnUse" x1="50" y1="0" x2="885" y2="0">
    <stop offset="0" stop-color="#d0d2d4"/><stop offset="0.2" stop-color="#f8f8f8"/><stop offset="0.5" stop-color="#e4e5e6"/><stop offset="0.75" stop-color="#bfc2c4"/><stop offset="1" stop-color="#ededed"/>
  </linearGradient>
  <g transform="rotate(2.500 467 316)">
    <path fill-rule="evenodd" fill="#8d9194" stroke-width="3.300" transform="translate(0,6)" d="M49 316 A418 246 0 1 0 885 316 A418 246 0 1 0 49 316 Z M92 316 A375 220 0 1 1 842 316 A375 220 0 1 1 92 316 Z"/>
    <path fill-rule="evenodd" fill="url(#gRing)" stroke-width="3.300" d="M49 316 A418 246 0 1 0 885 316 A418 246 0 1 0 49 316 Z M92 316 A375 220 0 1 1 842 316 A375 220 0 1 1 92 316 Z"/>
    <ellipse cx="467" cy="316" rx="396" ry="233" fill="none" stroke="#9a9d9f" stroke-width="2"/>
  </g>
  <g fill="#fff" stroke-width="3.300">
    <path d="M322 104 Q322 90 338 90 Q354 90 356 104 Q340 116 322 104 Z"/>
    <path d="M488 96 Q488 82 504 82 Q520 82 522 96 Q506 108 488 96 Z"/>
    <path d="M806 232 Q812 222 826 226 Q842 232 838 242 Q822 248 806 232 Z"/>
    <path d="M822 372 L846 364 L852 382 L830 396 Z"/>
    <path d="M796 410 L820 404 L826 420 L804 432 Z"/>
    <path d="M316 516 Q330 508 344 516 Q346 530 330 532 Q316 530 316 516 Z"/>
    <path d="M420 532 Q434 524 450 532 Q450 546 436 548 Q420 546 420 532 Z"/>
    <path d="M90 384 Q100 372 116 378 Q124 390 110 396 Q94 396 90 384 Z"/>
    <path d="M78 238 L128 210 L142 214 L144 226 L100 250 L96 262 Z"/>
  </g>
  <path fill="none" stroke="#1d1d1d" stroke-width="6" stroke-linecap="round" d="M558 400 L640 292 Q668 262 648 258 Q620 262 588 286"/>
</g>
<g id="screws4000213">
  <use href="#screwS" transform="translate(842,104) scale(1.1)"/>
  <use href="#screwS" transform="translate(850.500,155.500) scale(1.1)"/>
  <use href="#screwS" transform="translate(738.500,174) scale(1.1)"/>
  <use href="#screwS" transform="translate(793.500,187) scale(1.1)"/>
</g>
<!-- 31_plate3505 -->
<g id="p3505029" transform="translate(680,240) scale(0.3)" stroke="#1f1f1f" stroke-width="4" stroke-linejoin="round">
  <linearGradient id="gPl35" gradientUnits="userSpaceOnUse" x1="145" y1="0" x2="620" y2="0">
    <stop offset="0" stop-color="#9ea2a5"/><stop offset="0.22" stop-color="#f6f6f6"/><stop offset="0.45" stop-color="#e4e5e6"/><stop offset="0.62" stop-color="#c2c5c7"/><stop offset="0.8" stop-color="#eeeeee"/><stop offset="1" stop-color="#8e9295"/>
  </linearGradient>
  <path fill="#7e8386" transform="translate(0,5)" d="M480 110 A240 142 0 0 0 145 240 A240 142 0 0 0 545 338 L565 330 L570 315 L600 300 L620 270 L618 230 L600 195 L580 160 L545 178 L510 180 L485 155 L520 140 L520 125 Z"/>
  <path fill="url(#gPl35)" d="M480 110 A240 142 0 0 0 145 240 A240 142 0 0 0 545 338 L565 330 L570 315 L600 300 L620 270 L618 230 L600 195 L580 160 L545 178 L510 180 L485 155 L520 140 L520 125 Z"/>
  <g fill="#fff" stroke-width="3.300">
    <ellipse cx="385" cy="238" rx="73" ry="41"/>
    <path d="M470 268 L525 232 L560 245 L510 290 Z"/>
    <ellipse cx="196" cy="236" rx="16" ry="9"/>
    <ellipse cx="196" cy="288" rx="17" ry="10"/>
    <ellipse cx="288" cy="302" rx="24" ry="14"/>
    <ellipse cx="370" cy="320" rx="17" ry="10"/>
    <ellipse cx="548" cy="210" rx="15" ry="10"/>
    <ellipse cx="580" cy="262" rx="15" ry="9"/>
  </g>
  <ellipse cx="232" cy="304" rx="10" ry="7" fill="#333" stroke="none"/>
  <ellipse cx="578" cy="237" rx="8" ry="6" fill="#333" stroke="none"/>
  <path fill="none" stroke="#666" stroke-width="4" d="M314 232 Q330 200 385 198 Q440 200 456 232"/>
</g>
<!-- 32_datedisc -->
<g id="p3504196" transform="translate(789.4,446.0) rotate(-1) scale(1,0.571)">
<circle cx="0" cy="5.6" r="110.0" fill="#e4e4e4" stroke="#2b2b2b" stroke-width="1"/>
<circle cx="0" cy="0" r="110.0" fill="#ffffff" stroke="#2b2b2b" stroke-width="1.1"/>
<circle cx="0" cy="4.4" r="72.8" fill="#f3e169" stroke="#a8962c" stroke-width="0.8"/>
<polygon points="60.5,2.4 63.3,6.9 59.9,11.0 62.0,15.9 58.0,19.4 59.5,24.6 55.0,27.5 55.7,32.8 50.9,35.1 50.8,40.5 45.7,42.0 44.9,47.3 39.6,48.1 38.1,53.2 32.7,53.3 30.4,58.1 25.1,57.4 22.2,61.9 17.0,60.4 13.5,64.4 8.6,62.3 4.5,65.7 0.0,62.9 -4.5,65.7 -8.6,62.3 -13.5,64.4 -17.0,60.4 -22.2,61.9 -25.1,57.4 -30.4,58.1 -32.7,53.3 -38.1,53.2 -39.6,48.1 -44.9,47.3 -45.7,42.0 -50.8,40.5 -50.9,35.1 -55.7,32.8 -55.0,27.5 -59.5,24.6 -58.0,19.4 -62.0,15.9 -59.9,11.0 -63.3,6.9 -60.5,2.4 -63.3,-2.1 -59.9,-6.2 -62.0,-11.1 -58.0,-14.6 -59.5,-19.8 -55.0,-22.7 -55.7,-28.0 -50.9,-30.3 -50.8,-35.7 -45.7,-37.2 -44.9,-42.5 -39.6,-43.3 -38.1,-48.4 -32.7,-48.5 -30.4,-53.3 -25.1,-52.6 -22.2,-57.1 -17.0,-55.6 -13.5,-59.6 -8.6,-57.5 -4.5,-60.9 -0.0,-58.1 4.5,-60.9 8.6,-57.5 13.5,-59.6 17.0,-55.6 22.2,-57.1 25.1,-52.6 30.4,-53.3 32.7,-48.5 38.1,-48.4 39.6,-43.3 44.9,-42.5 45.7,-37.2 50.8,-35.7 50.9,-30.3 55.7,-28.0 55.0,-22.7 59.5,-19.8 58.0,-14.6 62.0,-11.1 59.9,-6.2 63.3,-2.1" fill="#ffffff" stroke="#222" stroke-width="1.5"/>
<g font-size="29" fill="#1f1f1f" stroke="#1f1f1f" stroke-width="0.5" text-anchor="middle">
<text transform="rotate(-258.8) translate(0,-81) scale(0.43,1)">1</text>
<text transform="rotate(-247.2) translate(0,-81) scale(0.43,1)">2</text>
<text transform="rotate(-235.6) translate(0,-81) scale(0.43,1)">3</text>
<text transform="rotate(-223.9) translate(0,-81) scale(0.43,1)">4</text>
<text transform="rotate(-212.3) translate(0,-81) scale(0.43,1)">5</text>
<text transform="rotate(-200.7) translate(0,-81) scale(0.43,1)">6</text>
<text transform="rotate(-189.1) translate(0,-81) scale(0.43,1)">7</text>
<text transform="rotate(-177.5) translate(0,-81) scale(0.43,1)">8</text>
<text transform="rotate(-165.9) translate(0,-81) scale(0.43,1)">9</text>
<text transform="rotate(-154.3) translate(0,-81) scale(0.43,1)">10</text>
<text transform="rotate(-142.7) translate(0,-81) scale(0.43,1)">11</text>
<text transform="rotate(-131.0) translate(0,-81) scale(0.43,1)">12</text>
<text transform="rotate(-119.4) translate(0,-81) scale(0.43,1)">13</text>
<text transform="rotate(-107.8) translate(0,-81) scale(0.43,1)">14</text>
<text transform="rotate(-96.2) translate(0,-81) scale(0.43,1)">15</text>
<text transform="rotate(-84.6) translate(0,-81) scale(0.43,1)">16</text>
<text transform="rotate(-73.0) translate(0,-81) scale(0.43,1)">17</text>
<text transform="rotate(-61.4) translate(0,-81) scale(0.43,1)">18</text>
<text transform="rotate(-49.8) translate(0,-81) scale(0.43,1)">19</text>
<text transform="rotate(-38.1) translate(0,-81) scale(0.43,1)">20</text>
<text transform="rotate(-26.5) translate(0,-81) scale(0.43,1)">21</text>
<text transform="rotate(-14.9) translate(0,-81) scale(0.43,1)">22</text>
<text transform="rotate(-3.3) translate(0,-81) scale(0.43,1)">23</text>
<text transform="rotate(8.3) translate(0,-81) scale(0.43,1)">24</text>
<text transform="rotate(19.9) translate(0,-81) scale(0.43,1)">25</text>
<text transform="rotate(31.5) translate(0,-81) scale(0.43,1)">26</text>
<text transform="rotate(43.2) translate(0,-81) scale(0.43,1)">27</text>
<text transform="rotate(54.8) translate(0,-81) scale(0.43,1)">28</text>
<text transform="rotate(66.4) translate(0,-81) scale(0.43,1)">29</text>
<text transform="rotate(78.0) translate(0,-81) scale(0.43,1)">30</text>
<text transform="rotate(89.6) translate(0,-81) scale(0.43,1)">31</text>
</g>
</g>
<use href="#pin3" transform="translate(746.0,461.5)"/>
<!-- 33_plate2130047 -->
<g id="p2130047" transform="translate(680,530) scale(0.3)" stroke="#1f1f1f" stroke-width="4" stroke-linejoin="round">
  <linearGradient id="gPl21" gradientUnits="userSpaceOnUse" x1="140" y1="0" x2="620" y2="0">
    <stop offset="0" stop-color="#a4a8ab"/><stop offset="0.25" stop-color="#f4f4f4"/><stop offset="0.5" stop-color="#fafafa"/><stop offset="0.68" stop-color="#b9bcbe"/><stop offset="0.85" stop-color="#9da1a4"/><stop offset="1" stop-color="#7f8386"/>
  </linearGradient>
  <path fill="#7b8083" transform="translate(0,6)" d="M263.3 290.0 C257.2 287.8 240.6 283.9 226.7 276.7 C212.8 269.4 192.8 259.4 180.0 246.7 C167.2 233.9 156.9 214.4 150.0 200.0 C143.1 185.6 138.7 173.3 138.7 160.0 C138.7 146.7 143.1 132.2 150.0 120.0 C156.9 107.8 167.2 97.2 180.0 86.7 C192.8 76.1 208.9 65.0 226.7 56.7 C244.4 48.3 265.6 41.4 286.7 36.7 C307.8 31.9 331.1 29.1 353.3 28.0 C375.6 26.9 400.0 28.0 420.0 30.0 C440.0 32.0 457.8 36.1 473.3 40.0 C488.9 43.9 506.7 51.1 513.3 53.3 L513 67 L480 81 L500 97 L527 110 L547 100 L573 90 L597 120 L613 160 L617 197 L600 215 L567 210 L547 203 L537 180 L527 167 L500 167 L473 190 L467 217 L450 220 L430 200 L447 187 L446.7 186.7 C446.7 183.3 449.4 173.9 446.7 166.7 C443.9 159.4 437.8 149.4 430.0 143.3 C422.2 137.2 411.7 133.0 400.0 130.0 C388.3 127.0 371.7 124.8 360.0 125.3 C348.3 125.9 338.3 128.7 330.0 133.3 C321.7 138.0 313.9 146.1 310.0 153.3 C306.1 160.6 305.6 170.0 306.7 176.7 C307.8 183.3 315.0 190.6 316.7 193.3 L293 201 L267 215 L253 233 L260 260 L267 277 Z"/>
  <path fill="url(#gPl21)" d="M263.3 290.0 C257.2 287.8 240.6 283.9 226.7 276.7 C212.8 269.4 192.8 259.4 180.0 246.7 C167.2 233.9 156.9 214.4 150.0 200.0 C143.1 185.6 138.7 173.3 138.7 160.0 C138.7 146.7 143.1 132.2 150.0 120.0 C156.9 107.8 167.2 97.2 180.0 86.7 C192.8 76.1 208.9 65.0 226.7 56.7 C244.4 48.3 265.6 41.4 286.7 36.7 C307.8 31.9 331.1 29.1 353.3 28.0 C375.6 26.9 400.0 28.0 420.0 30.0 C440.0 32.0 457.8 36.1 473.3 40.0 C488.9 43.9 506.7 51.1 513.3 53.3 L513 67 L480 81 L500 97 L527 110 L547 100 L573 90 L597 120 L613 160 L617 197 L600 215 L567 210 L547 203 L537 180 L527 167 L500 167 L473 190 L467 217 L450 220 L430 200 L447 187 L446.7 186.7 C446.7 183.3 449.4 173.9 446.7 166.7 C443.9 159.4 437.8 149.4 430.0 143.3 C422.2 137.2 411.7 133.0 400.0 130.0 C388.3 127.0 371.7 124.8 360.0 125.3 C348.3 125.9 338.3 128.7 330.0 133.3 C321.7 138.0 313.9 146.1 310.0 153.3 C306.1 160.6 305.6 170.0 306.7 176.7 C307.8 183.3 315.0 190.6 316.7 193.3 L293 201 L267 215 L253 233 L260 260 L267 277 Z"/>
  <g fill="#fff" stroke-width="3.300">
    <ellipse cx="221" cy="103" rx="22" ry="13"/>
    <ellipse cx="191" cy="162" rx="19" ry="11"/>
    <ellipse cx="190" cy="217" rx="19" ry="11"/>
    <ellipse cx="227" cy="235" rx="12" ry="8"/>
    <ellipse cx="545" cy="138" rx="17" ry="10"/>
    <ellipse cx="577" cy="191" rx="17" ry="10"/>
  </g>
  <ellipse cx="577" cy="164" rx="9" ry="6" fill="#555" stroke-width="2.500"/>
</g>
<!-- 34_wheels_right -->
<g id="p3004124" stroke="#2b2b2b" stroke-width="1" stroke-linejoin="round">
<polygon points="762.5,632.2 763.2,627.1 767.8,627.1 768.5,632.2 772.3,632.9 777.2,628.6 781.2,630.0 777.5,634.6 780.3,636.3 788.1,634.1 790.4,636.5 783.2,639.4 784.3,641.7 792.9,642.1 792.9,644.9 784.3,645.3 783.2,647.6 790.4,650.5 788.1,652.9 780.3,650.7 777.5,652.4 781.2,657.0 777.2,658.4 772.3,654.1 768.5,654.8 767.8,659.9 763.2,659.9 762.5,654.8 758.7,654.1 753.8,658.4 749.8,657.0 753.5,652.4 750.7,650.7 742.9,652.9 740.6,650.5 747.8,647.6 746.7,645.3 738.1,644.9 738.1,642.1 746.7,641.7 747.8,639.4 740.6,636.5 742.9,634.1 750.7,636.3 753.5,634.6 749.8,630.0 753.8,628.6 758.7,632.9" fill="#8a6a1e"/>
<polygon points="762.5,629.7 763.2,624.6 767.8,624.6 768.5,629.7 772.3,630.4 777.2,626.1 781.2,627.5 777.5,632.1 780.3,633.8 788.1,631.6 790.4,634.0 783.2,636.9 784.3,639.2 792.9,639.6 792.9,642.4 784.3,642.8 783.2,645.1 790.4,648.0 788.1,650.4 780.3,648.2 777.5,649.9 781.2,654.5 777.2,655.9 772.3,651.6 768.5,652.3 767.8,657.4 763.2,657.4 762.5,652.3 758.7,651.6 753.8,655.9 749.8,654.5 753.5,649.9 750.7,648.2 742.9,650.4 740.6,648.0 747.8,645.1 746.7,642.8 738.1,642.4 738.1,639.6 746.7,639.2 747.8,636.9 740.6,634.0 742.9,631.6 750.7,633.8 753.5,632.1 749.8,627.5 753.8,626.1 758.7,630.4" fill="#f1c863"/>
<path d="M750.5 641.0 A15 9 0 1 0 778.5 637.0 L774.5 638.0 A11 6.5 0 1 1 754.5 641.0 Z" fill="#fff" stroke-width="0.8"/>
<ellipse cx="765.5" cy="641.0" rx="6" ry="3.5" fill="#fff" stroke-width="0.8"/>
</g>
<g id="p3315001" stroke="#2b2b2b" stroke-width="0.9">
<ellipse cx="793.4" cy="675.8" rx="17.5" ry="9.6" fill="#b98b28"/>
<ellipse cx="793.4" cy="674.6" rx="17.5" ry="9.6" fill="#f5d274"/>
<ellipse cx="793.4" cy="675.2" rx="10" ry="5.2" fill="#fff"/>
</g>
<g id="p3004107">
<ellipse cx="824.0" cy="689.8" rx="10" ry="6.2" fill="#9c7424" stroke="#3a2a0a" stroke-width="0.8"/>
<ellipse cx="824.0" cy="689.8" rx="10.3" ry="6.5" fill="none" stroke="#5a3f10" stroke-width="1.6" stroke-dasharray="1.07 1.07"/>
<ellipse cx="824.0" cy="687.8" rx="10" ry="6.2" fill="url(#gGear)" stroke="#6b4a12" stroke-width="0.8"/>
<ellipse cx="824.0" cy="687.8" rx="10.4" ry="6.6000000000000005" fill="none" stroke="#7a5716" stroke-width="1.2" stroke-dasharray="1.07 1.07"/>
<ellipse cx="824.0" cy="687.3" rx="5.5" ry="3.2" fill="#f9e2a0" stroke="#3a2a0a" stroke-width="0.7"/>
<ellipse cx="824.0" cy="687.3" rx="2.5" ry="1.5" fill="#fff" stroke="#3a2a0a" stroke-width="0.6"/>
</g>
<g id="p3301142" transform="translate(0.4,-3.2)">
<ellipse cx="793.4" cy="714.1" rx="23" ry="12.5" fill="#9c7424" stroke="#3a2a0a" stroke-width="0.8"/>
<ellipse cx="793.4" cy="714.1" rx="23.3" ry="12.8" fill="none" stroke="#5a3f10" stroke-width="1.6" stroke-dasharray="1.14 1.14"/>
<ellipse cx="793.4" cy="710.6" rx="23" ry="12.5" fill="#fffaf0" stroke="#6b4a12" stroke-width="0.8"/>
<ellipse cx="793.4" cy="710.6" rx="23.4" ry="12.9" fill="none" stroke="#7a5716" stroke-width="1.2" stroke-dasharray="1.14 1.14"/>
<g fill="#eeb84a" stroke="#3a2a0a" stroke-width="0.7"><path d="M793.4 710.6 L814.3 711.5 L811.6 716.3 Z"/><path d="M793.4 710.6 L802.4 721.0 L793.5 722.1 Z"/><path d="M793.4 710.6 L781.5 720.1 L775.3 716.4 Z"/><path d="M793.4 710.6 L772.5 709.7 L775.2 704.9 Z"/><path d="M793.4 710.6 L784.4 700.2 L793.3 699.1 Z"/><path d="M793.4 710.6 L805.3 701.1 L811.5 704.8 Z"/></g>
<ellipse cx="793.4" cy="710.6" rx="23" ry="12.5" fill="none" stroke="#e0a83c" stroke-width="3"/>
<path d="M785.4 701.6 V710.6 Q793.4 715.6 801.4 710.6 V701.6 Z" fill="#e3b04a" stroke="#3a2a0a" stroke-width="0.8"/>
<ellipse cx="793.4" cy="701.6" rx="8" ry="4.2" fill="#f7dc95" stroke="#3a2a0a" stroke-width="0.8"/>
<ellipse cx="793.4" cy="701.1" rx="4" ry="2.2" fill="#fff" stroke="#3a2a0a" stroke-width="0.7"/>
</g>
<g id="p3007083">
<ellipse cx="819.5" cy="738.0" rx="18.6" ry="10.5" fill="#9c7424" stroke="#3a2a0a" stroke-width="0.8"/>
<ellipse cx="819.5" cy="738.0" rx="18.900000000000002" ry="10.8" fill="none" stroke="#5a3f10" stroke-width="1.6" stroke-dasharray="1.06 1.06"/>
<ellipse cx="819.5" cy="735.0" rx="18.6" ry="10.5" fill="url(#gGear)" stroke="#6b4a12" stroke-width="0.8"/>
<ellipse cx="819.5" cy="735.0" rx="19.0" ry="10.9" fill="none" stroke="#7a5716" stroke-width="1.2" stroke-dasharray="1.06 1.06"/>
<ellipse cx="819.5" cy="734.2" rx="6" ry="3.4" fill="#d9a53c" stroke="#3a2a0a" stroke-width="0.7"/>
<ellipse cx="819.5" cy="733.0" rx="4" ry="2.2" fill="#f9e2a0" stroke="#3a2a0a" stroke-width="0.7"/>
</g>
<!-- 35_smallright -->
<g id="p3500039" transform="translate(680,530) scale(0.3)" stroke="#1f1f1f" stroke-width="3.500" stroke-linejoin="round">
  <path fill="#55595d" transform="translate(0,7)" d="M722 550 L725 568 L770 560 L800 530 L862 520 L855 492 Z"/>
  <path fill="#e9eaeb" d="M722 550 L760 510 L790 500 L855 492 L862 520 L800 530 L770 560 L725 568 Z"/>
  <ellipse cx="762" cy="540" rx="9" ry="6" fill="#fff" stroke-width="3.300"/>
  <ellipse cx="820" cy="512" rx="9" ry="6" fill="#fff" stroke-width="3.300"/>
</g>
<use href="#pin3" transform="translate(939.500,682.500) rotate(90) scale(0.98)"/>
<g id="p3015039" transform="translate(680,660) scale(0.3)" stroke="#1f1f1f" stroke-width="3.500" stroke-linejoin="round">
  <path fill="#4d5155" transform="translate(0,7)" d="M580 155 L590 170 L605 180 L630 180 L660 190 L690 208 L705 200 L700 180 Z"/>
  <path fill="#c9ccce" d="M580 155 L600 140 L625 135 L650 150 L680 165 L700 180 L705 200 L690 208 L660 190 L630 180 L605 180 L590 170 Z"/>
  <ellipse cx="604" cy="158" rx="10" ry="7" fill="#fff" stroke-width="3.300"/>
</g>
<!-- 80_lines -->
<g id="leaders" class="ln">
  <path d="M272 50 L272 84 M272 98 L272 193 M272 234 L272 330 L216 398 L216 820 L270 858 M395.2 71 L395.2 104 M395.2 115 L395.2 241 M395.2 253 L395.2 290 M395.2 297 L395.2 440 M395.2 455 L395.2 505 M395.2 510 L395.2 886 M224.3 205 L224.3 237 M224.3 246 L224.3 274 L35.3 492 L35.3 526 M35.3 567 L35.3 656 M35.3 670 L35.3 765.2 L223 880 M352.2 387 L352.2 404 M352.2 420 L352.2 445.4 L414.8 479 L414.8 808 L351.3 841.5 M91.1 659 L91.1 681 M91 706 L91 784.2 L273.4 907.4 M133.3 572 L133.3 598 M133.3 612 L133.3 727 M133.3 741 L133.3 947.7 L292.4 947.7 M266.2 536 L266.2 551 M266.2 576 L266.2 717 M266.2 725 L266.2 859 M290.4 699 L290.4 718 M290.4 733 L290.4 897 M307.4 671 L307.4 743 M307.4 753 L307.4 771 M307.4 803 L307.4 889 M321.4 619 L321.4 628 M321.4 646 L321.4 716 M321.4 731 L321.4 882 M355.7 537 L355.7 554 M355.7 565 L355.7 719 M355.7 729 L355.7 880 M336.8 686 L308.1 743.6 M377.8 803 L377.8 852.4 M468.6 796.3 L456 803.6 M434 816.5 L346.2 867.7 M484.9 642 L484.9 676 M484.9 697 L484.9 857 L345.5 913.4 M738.2 186 L738.2 197 M738.2 212 L738.2 326 M738.2 341 L738.2 392 M738.2 432 L738.2 453 M738.2 509 L738.2 578 M735.5 606 L735.5 871 M792 199 L792 204 M792 221 L792 336 M792 355 L792 386 M792 412 L792 417 L764.7 446 L764.7 471.4 M764.7 510.5 L764.7 641 M764.7 657 L764.7 870.8 L785.8 880.3 M832.7 165 L832.7 195 M832.7 209 L832.7 318 M832.7 342 L832.7 392 M832.7 420 L832.7 466 M832.7 510 L832.7 599 M842.6 116 L842.6 192 M842.6 209 L842.6 303 M842.6 330 L842.6 395 M842.6 425 L842.6 458 M842.6 505 L842.6 571 M842.6 599 L842.6 848.7 M852.5 168 L852.5 190 M852.5 212 L852.5 318 M852.5 338 L852.5 398 M852.5 428 L852.5 448 M852.5 502 L852.5 586 M852.5 598 L852.5 855.5 M793.5 658 L793.5 675 M793.5 681 L793.5 697 M793.5 722 L793.5 838.5 M824.2 696 L824.2 725 M824.2 749 L824.2 837 M818.8 750 L818.8 859 M860.6 714.4 L860.6 738.2 L814.7 819.8 M909.2 697.4 L909.2 745 L825.6 886.1"/>
  <path d="M318.5 950 L327.5 1000" stroke-dasharray="3 2.500"/>
</g>
<!-- 85_pins_top -->
<g id="pins-top">
  <use href="#pin3" transform="translate(379,854) rotate(28.500) scale(0.87)"/>
</g>
<!-- 90_labels -->
<g id="labels" class="lbl" transform="translate(0,0.3)">
  <text x="417" y="67">4000.102 (2x)</text>
  <text x="417" y="107.7">2130.043 .G.M04</text>
  <text x="156" y="200">4000.233</text>
  <text x="417" y="244">3612.220</text>
  <text x="317.8" y="291">3601.078</text>
  <text x="284" y="384">4000.102</text>
  <text x="284" y="435">3603.039</text>
  <text x="284" y="475">3015.045</text>
  <text x="230" y="511">4000.141 (2x)</text>
  <text x="60" y="522.300">3621.022.RK</text>
  <text x="146.500" y="551.200">4000.230</text>
  <text x="170" y="575">2020.120.G.M01</text>
  <text x="222" y="604">3122.043.CO</text>
  <rect x="250" y="626.500" width="36.500" height="20" fill="#cfcfcf" stroke="none"/>
  <text x="254" y="641">1), 2)</text>
  <rect x="98.500" y="633.800" width="21" height="20.800" fill="#cfcfcf" stroke="none"/>
  <text x="103" y="649">4)</text>
  <text x="335" y="664">4000.266</text>
  <rect x="246" y="671" width="21" height="20" fill="#cfcfcf" stroke="none"/>
  <text x="250" y="686">3)</text>
  <text x="27.8" y="706.2">3622.013</text>
  <text x="186" y="737">2030.012.CO</text>
  <text x="206" y="783">3305.167.CO</text>
  <text x="391" y="795">3017.038</text>
  <text x="419" y="838">3001.053.FI</text>
  <text x="529.7" y="617">3600.014.HGF</text>
  <text x="529.7" y="697">3603.031</text>
  <text x="529.7" y="786">3000.131</text>
  <text x="429" y="929">2000.464.G</text>
  <text font-size="14.7" x="741" y="113.2">4000.213 (4x)</text>
  <text font-size="14.7" x="761" y="150.2">3905.033</text>
  <text font-size="14.7" x="885" y="209.8">3506.046</text>
  <text font-size="14.7" x="863" y="344.1">3505.029</text>
  <text font-size="14.7" x="890" y="494.1">3504.196.B</text>
  <text font-size="14.7" x="871" y="580.3">2130.047</text>
  <text font-size="14.7" x="800" y="642.8">3004.124</text>
  <text font-size="14.7" x="711" y="679.6">3315.001</text>
  <text font-size="14.7" x="837" y="689.5">3004.107</text>
  <text font-size="14.7" x="904" y="671.6">3500.039</text>
  <text font-size="14.7" x="680" y="713">3301.142.CO</text>
  <text font-size="14.7" x="709" y="741.8">3007.083.CO</text>
  <text font-size="14.7" x="866" y="736.3">3015.039</text>
  <text font-size="14.7" x="907" y="922.1">2000.464.G</text>
</g>
<!-- 95_watermark -->
<g id="watermark" style="pointer-events:none">
  <g fill="none" stroke="#000000" stroke-opacity="0.055" stroke-width="22" stroke-linejoin="miter">
    <path d="M375 312 V154 H613 V312 H770.500 V548 H613 V706 H375 V548 H217 V312 Z"/>
    <path d="M494 250 V430 H675"/>
  </g>
  <text x="197" y="840" font-size="98" font-weight="bold" fill="#000000" fill-opacity="0.038" textLength="603" lengthAdjust="spacingAndGlyphs">RUSPART.RU</text>
</g>
</svg>
</body>
</html>
